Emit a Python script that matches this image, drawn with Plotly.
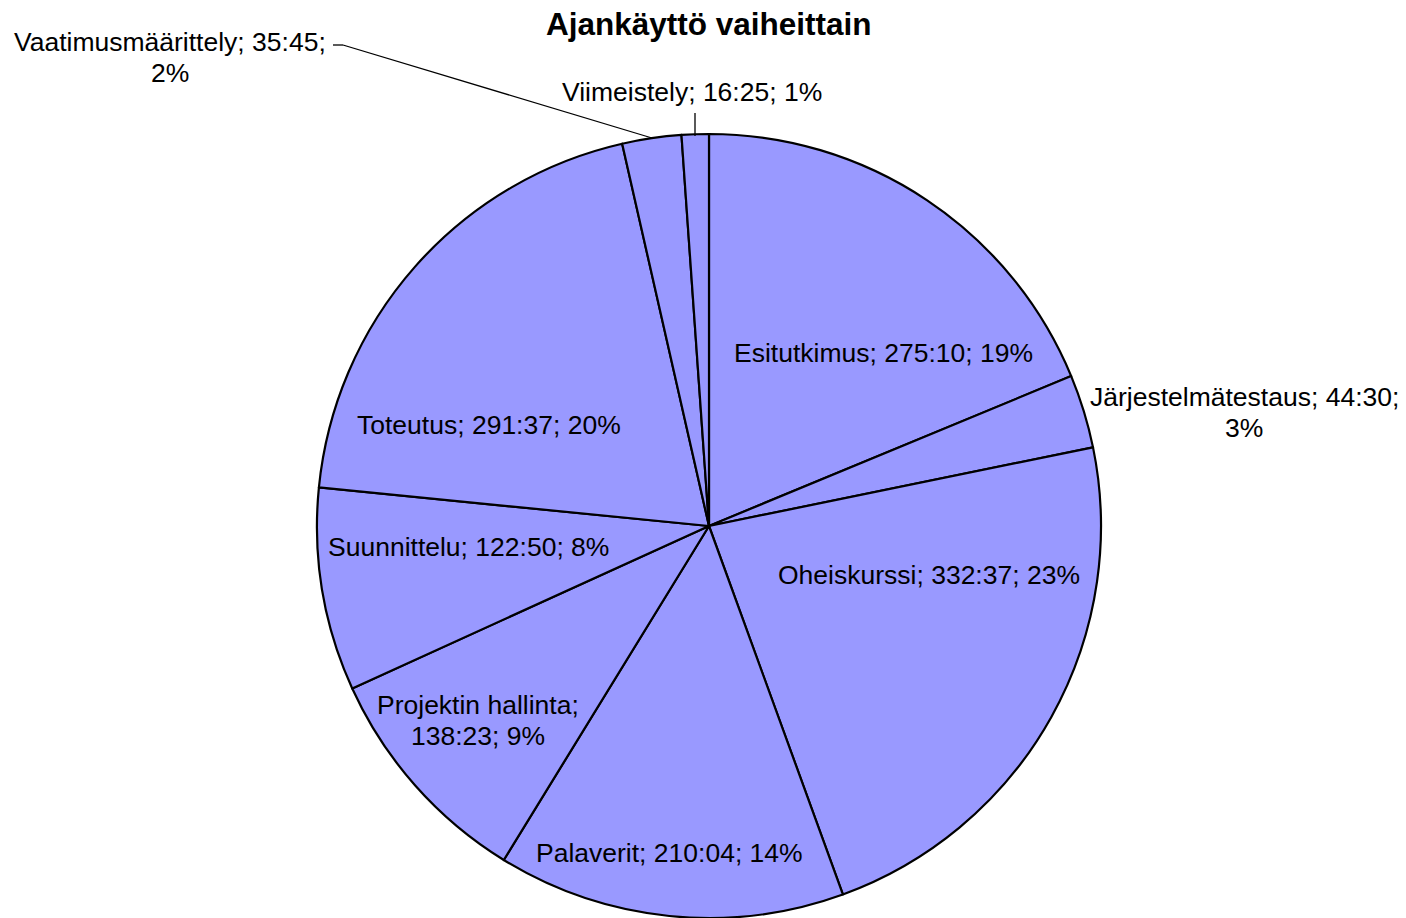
import plotly.graph_objects as go

# Data
phases = ["Esitutkimus", "Järjestelmätestaus", "Oheiskurssi", "Palaverit",
          "Projektin hallinta", "Suunnittelu", "Toteutus",
          "Vaatimusmäärittely", "Viimeistely"]
time_labels = ["275:10", "44:30", "332:37", "210:04", "138:23", "122:50",
               "291:37", "35:45", "16:25"]
minutes = [275 * 60 + 10, 44 * 60 + 30, 332 * 60 + 37, 210 * 60 + 4,
           138 * 60 + 23, 122 * 60 + 50, 291 * 60 + 37, 35 * 60 + 45,
           16 * 60 + 25]

# Label layout (page-pixel centre of first line, and line-break index)
label_pos = [(883, 353), (1244, 397), (929, 575), (669, 853), (478, 705),
             (468, 547), (489, 425), (170, 42), (692, 92)]
label_break = [None, 2, None, None, 1, None, None, 2, None]
LINE_GAP = 31

OFF = 0                      # page body margin removed via post_script
W, H = 1406 - OFF, 918 - OFF
total = sum(minutes)


def px(x):
    return (x - OFF) / W


def py(y):
    return 1 - (y - OFF) / H


CX, CY, R = 709, 526, 392

fig = go.Figure(go.Pie(
    labels=phases,
    values=minutes,
    sort=False,
    direction="clockwise",
    rotation=0,
    textinfo="none",
    hoverinfo="label+percent",
    marker=dict(colors=["#9999FF"] * len(phases),
                line=dict(color="black", width=2.2)),
    domain=dict(x=[px(CX - R), px(CX + R)], y=[py(CY + R), py(CY - R)]),
    showlegend=False,
))

FONT = dict(family="Liberation Sans, Arial", size=26.5, color="black")
annotations = []
for name, tl, m, (lx, ly), br in zip(phases, time_labels, minutes, label_pos, label_break):
    pct = f"{round(100 * m / total)}%"
    parts = [name, tl, pct]
    if br is None:
        lines = ["; ".join(parts)]
    else:
        lines = ["; ".join(parts[:br]) + ";", "; ".join(parts[br:])]
    for i, line in enumerate(lines):
        annotations.append(dict(
            x=px(lx), y=py(ly + i * LINE_GAP), xref="paper", yref="paper",
            text=line, showarrow=False, xanchor="center", yanchor="middle",
            font=FONT,
        ))

annotations.append(dict(
    x=px(709), y=py(24), xref="paper", yref="paper",
    text="<b>Ajankäyttö vaiheittain</b>", showarrow=False,
    xanchor="center", yanchor="middle",
    font=dict(family="Liberation Sans, Arial", size=31.5, color="black"),
))


def leader(x0, y0, x1, y1):
    return dict(type="line", xref="paper", yref="paper",
                x0=px(x0), y0=py(y0), x1=px(x1), y1=py(y1),
                line=dict(color="black", width=1.3))


shapes = [
    leader(333, 45, 343, 45),
    leader(343, 45, 652, 138),
    leader(695, 113, 695, 136),
]

fig.update_layout(
    width=W, height=H,
    margin=dict(l=0, r=0, t=0, b=0),
    paper_bgcolor="white", plot_bgcolor="white",
    annotations=annotations, shapes=shapes,
)

fig.write_html("out.html",
               config={"displayModeBar": False},
               post_script="document.body.style.margin='0';document.body.style.overflow='hidden';")
